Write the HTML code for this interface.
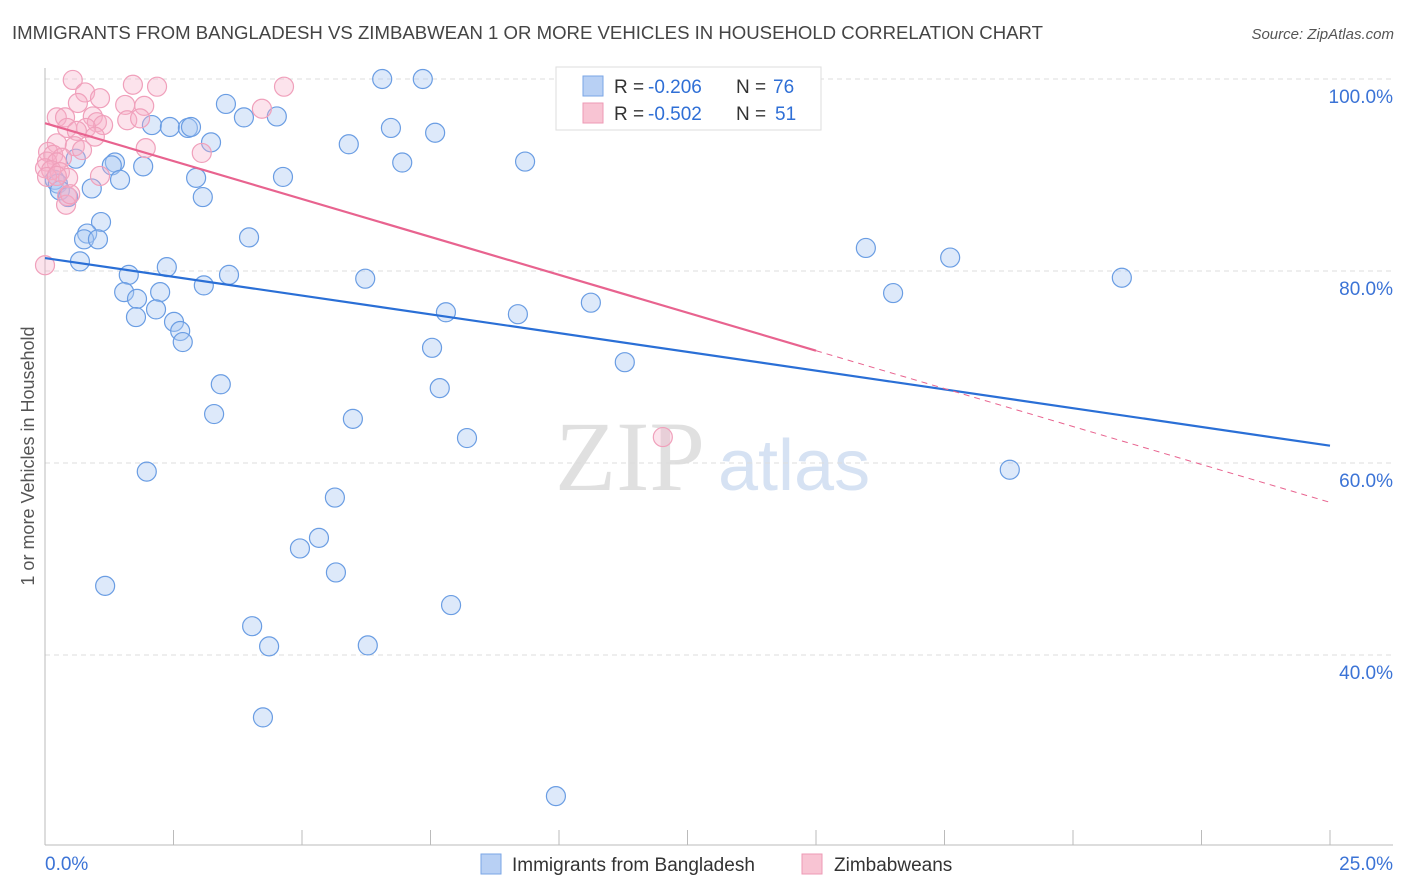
<!DOCTYPE html>
<html><head><meta charset="utf-8"><style>
body{margin:0;background:#fff;font-family:"Liberation Sans",sans-serif;}
svg{display:block}
</style></head><body>
<svg id="chart" width="1406" height="892" viewBox="0 0 1406 892" xmlns="http://www.w3.org/2000/svg">
<text x="12" y="39" font-size="18" fill="#444" textLength="1031" lengthAdjust="spacingAndGlyphs">IMMIGRANTS FROM BANGLADESH VS ZIMBABWEAN 1 OR MORE VEHICLES IN HOUSEHOLD CORRELATION CHART</text>
<text x="1394" y="39" font-size="15" fill="#555" text-anchor="end" font-style="italic">Source: ZipAtlas.com</text>
<g>
<text x="555" y="490" font-size="100" fill="#e0e0e0" font-family="Liberation Serif,serif">ZIP</text>
<text x="718" y="490" font-size="72" fill="#d6e2f3">atlas</text>
</g>
<g id="grid"></g>
<g id="axes"></g>
<g id="points"></g>
<g id="trends"></g>
<text transform="translate(34,456) rotate(-90)" font-size="18" fill="#555" text-anchor="middle">1 or more Vehicles in Household</text>
<g>
<rect x="556" y="67" width="265" height="63" fill="#fff" stroke="#ddd"/>
<rect x="583" y="76" width="20" height="20" fill="#b8d0f4" stroke="#7aa6e6"/>
<rect x="583" y="103" width="20" height="20" fill="#f8c4d3" stroke="#ee9ab4"/>
<text x="614" y="93" font-size="19" fill="#333">R =</text>
<text x="648" y="93" font-size="19" fill="#2f6fd6">-0.206</text>
<text x="736" y="93" font-size="19" fill="#333">N =</text>
<text x="773" y="93" font-size="19" fill="#2f6fd6">76</text>
<text x="614" y="120" font-size="19" fill="#333">R =</text>
<text x="648" y="120" font-size="19" fill="#2f6fd6">-0.502</text>
<text x="736" y="120" font-size="19" fill="#333">N =</text>
<text x="775" y="120" font-size="19" fill="#2f6fd6">51</text>
</g>
<g>
<rect x="481" y="854" width="20" height="20" fill="#b8d0f4" stroke="#7aa6e6"/>
<text x="512" y="871" font-size="19" fill="#333">Immigrants from Bangladesh</text>
<rect x="802" y="854" width="20" height="20" fill="#f8c4d3" stroke="#ee9ab4"/>
<text x="834" y="871" font-size="19" fill="#333">Zimbabweans</text>
</g>
</svg>
<script>
const blueX=[6.56,7.35,3.52,3.87,4.51,2.08,2.43,2.78,2.84,6.73,7.59,3.23,5.91,1.36,1.30,1.91,6.95,9.34,0.60,1.46,2.94,4.63,0.19,0.25,0.91,0.29,0.45,3.07,1.09,0.82,0.76,1.03,3.97,0.68,2.37,1.63,3.58,6.23,3.09,1.54,2.24,1.79,2.16,1.77,2.51,2.63,2.68,7.80,9.20,10.62,7.53,11.28,3.42,7.68,3.29,5.99,8.21,1.98,5.64,5.33,4.96,5.66,1.17,7.90,4.03,4.36,6.28,4.24,9.94,15.97,17.61,16.50,20.95,18.77];
const blueY=[100,100,97.4,96.0,96.1,95.2,95.0,94.9,95.0,94.9,94.4,93.4,93.2,91.3,91.0,90.9,91.3,91.4,91.7,89.5,89.7,89.8,89.5,89.1,88.6,88.4,87.7,87.7,85.1,83.9,83.3,83.3,83.5,81.0,80.4,79.6,79.6,79.2,78.5,77.8,77.8,77.1,76.0,75.2,74.7,73.75,72.6,75.7,75.5,76.7,72.0,70.5,68.2,67.8,65.1,64.6,62.6,59.1,56.4,52.2,51.1,48.6,47.2,45.2,43.0,40.9,41.0,33.5,25.3,82.4,81.4,77.7,79.3,59.3];
const pinkX=[0.54,1.71,2.18,4.65,0.78,1.07,0.64,1.56,1.93,4.22,0.23,0.39,0.93,1.60,1.85,1.01,0.43,1.13,0.80,0.62,0.97,0.23,0.58,0.72,1.96,3.05,0.06,0.16,0.33,0.04,0.23,0,0.12,0.29,0.45,1.07,0.04,0.23,0.43,0.41,0.49,0,12.02];
const pinkY=[99.9,99.4,99.2,99.2,98.6,98.0,97.5,97.3,97.2,96.9,96.0,96.0,96.1,95.7,95.9,95.5,94.9,95.2,94.9,94.6,94.0,93.3,93.0,92.6,92.8,92.3,92.4,92.1,91.8,91.4,91.3,90.7,90.5,90.3,89.7,89.9,89.8,89.9,87.8,86.9,88.0,80.6,62.7];
const yTicks=[100,80,60,40];
const blueTrend=[81.35,61.8];
const pinkTrend=[95.4,55.9];
const pinkSolidEnd=15.0;
const X0=45,X1=1330,Y100=79,PX=9.6;
const sx=v=>X0+(X1-X0)*v/25;
const sy=v=>Y100+(100-v)*PX;
const NS="http://www.w3.org/2000/svg";
function mk(parent,tag,attrs){const e=document.createElementNS(NS,tag);for(const k in attrs)e.setAttribute(k,attrs[k]);document.getElementById(parent).appendChild(e);return e;}
yTicks.forEach(t=>{
 const l=mk('grid','line',{x1:45,x2:1393,y1:sy(t),y2:sy(t),stroke:'#ddd','stroke-dasharray':'5,4'});
 
 
 const tx=mk('grid','text',{x:1393,y:sy(t)+24,'font-size':19,fill:'#3b73d6','text-anchor':'end'});
 tx.textContent=t.toFixed(1)+'%';
 
 
});
let a=mk('axes','line',{x1:45,x2:45,y1:68,y2:845,stroke:'#bbb'});


a=mk('axes','line',{x1:45,x2:1393,y1:845,y2:845,stroke:'#bbb'});


for(let i=0;i<=10;i++){const x=sx(i*2.5);const t=mk('axes','line',{x1:x,x2:x,y1:830,y2:845,stroke:'#bbb'});
 
 }
let xl=mk('axes','text',{x:45,y:870,'font-size':19,fill:'#3b73d6'});xl.textContent='0.0%';


xl=mk('axes','text',{x:1393,y:870,'font-size':19,fill:'#3b73d6','text-anchor':'end'});xl.textContent='25.0%';


blueX.forEach((v,i)=>{const c=mk('points','circle',{cx:sx(v),cy:sy(blueY[i]),r:9.5,fill:'rgba(170,200,242,0.4)',stroke:'#6a9de3','stroke-width':1.2});
 
 });
pinkX.forEach((v,i)=>{const c=mk('points','circle',{cx:sx(v),cy:sy(pinkY[i]),r:9.5,fill:'rgba(245,175,200,0.35)',stroke:'#f0a0bb','stroke-width':1.2});
 
 });
let tl=mk('trends','line',{x1:sx(0),y1:sy(blueTrend[0]),x2:sx(25),y2:sy(blueTrend[1]),stroke:'#2a6fd6','stroke-width':2.2});


const pAt=x=>pinkTrend[0]+(pinkTrend[1]-pinkTrend[0])*x/25;
tl=mk('trends','line',{x1:sx(0),y1:sy(pAt(0)),x2:sx(pinkSolidEnd),y2:sy(pAt(pinkSolidEnd)),stroke:'#e8638f','stroke-width':2.2});


tl=mk('trends','line',{x1:sx(pinkSolidEnd),y1:sy(pAt(pinkSolidEnd)),x2:sx(25),y2:sy(pAt(25)),stroke:'#e8638f','stroke-width':1,'stroke-dasharray':'6,5'});


</script>
</body></html>
